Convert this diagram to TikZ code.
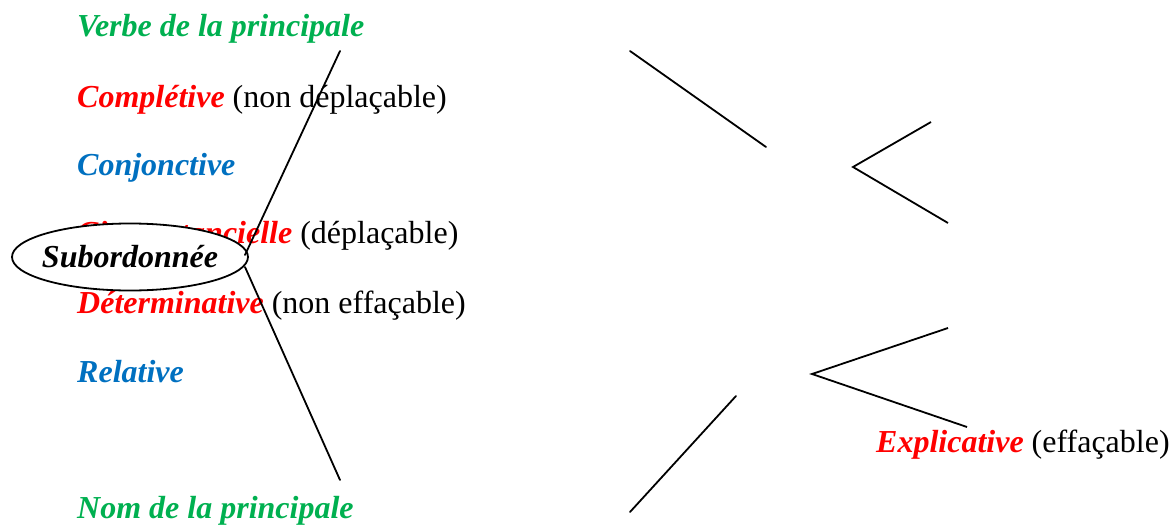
\documentclass[tikz,border=0pt]{standalone}
\usepackage{fontspec}
\setmainfont{Liberation Serif}
\definecolor{tgreen}{RGB}{0,176,80}
\definecolor{tred}{RGB}{255,0,0}
\definecolor{tblue}{RGB}{0,112,192}
\begin{document}
\begin{tikzpicture}[x=1pt,y=-1pt,
  lbl/.style={anchor=base west,inner sep=0pt,font=\fontsize{32}{36}\selectfont},
  bi/.style={font=\fontsize{32}{36}\selectfont\bfseries\itshape},
  conn/.style={line width=1.8pt,line cap=round}]
\useasboundingbox (0,0) rectangle (1174,527);
\node[lbl] (verbe) at (77,37) {\bfseries\itshape\color{tgreen}Verbe de la principale};
\node[lbl] (compl) at (77,107) {{\bfseries\itshape\color{tred}Complétive} (non déplaçable)};
\node[lbl] (conj) at (77,175) {\bfseries\itshape\color{tblue}Conjonctive};
\node[lbl] (circ) at (77,243) {{\bfseries\itshape\color{tred}Circonstancielle} (déplaçable)};
\node[lbl] (det) at (77,313) {{\bfseries\itshape\color{tred}Déterminative} (non effaçable)};
\node[lbl] (rel) at (77,382) {\bfseries\itshape\color{tblue}Relative};
\node[lbl] (nom) at (77,518) {\bfseries\itshape\color{tgreen}Nom de la principale};
\node[lbl] (expl) at (876,452) {{\bfseries\itshape\color{tred}Explicative} (effaçable)};
\coordinate (subc) at (130,257);
\draw[line width=1.8pt,fill=white] (subc) ellipse [x radius=118, y radius=33.5];
\node[bi,inner sep=0pt] (sub) at (subc) {Subordonnée};
\coordinate (s1) at (245,255);
\coordinate (e1) at (340,51);
\coordinate (s2) at (245,267);
\coordinate (e2) at (340,480);
\coordinate (a1) at (630,51);
\coordinate (a2) at (766,147);
\coordinate (b1) at (630,512);
\coordinate (b2) at (736,396);
\coordinate (v1) at (853,167);
\coordinate (v1u) at (931,122);
\coordinate (v1d) at (948,223);
\coordinate (v2) at (812,374);
\coordinate (v2u) at (948,328);
\coordinate (v2d) at (967,427);
\draw[conn] (s1) -- (e1);
\draw[conn] (s2) -- (e2);
\draw[conn] (a1) -- (a2);
\draw[conn] (b1) -- (b2);
\draw[conn,line cap=butt] (v1u) -- (v1) -- (v1d);
\draw[conn,line cap=butt] (v2u) -- (v2) -- (v2d);
\end{tikzpicture}
\end{document}
